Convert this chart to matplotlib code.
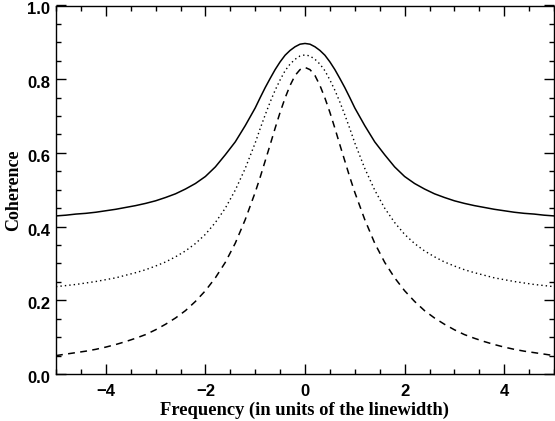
import numpy as np
import matplotlib
matplotlib.use("Agg")
import matplotlib.pyplot as plt
from matplotlib.ticker import MultipleLocator, FormatStrFormatter
from matplotlib.transforms import ScaledTranslation

# Frequency grid (in units of the linewidth); finer steps near the peak
freq = [-5.0, -4.8, -4.6, -4.4, -4.2, -4.0, -3.8, -3.6, -3.4, -3.2, -3.0,
        -2.8, -2.6, -2.4, -2.2, -2.0, -1.8, -1.6, -1.4, -1.2, -1.0,
        -0.9, -0.8, -0.7, -0.6, -0.5, -0.4, -0.3, -0.2, -0.1, 0.0,
        0.1, 0.2, 0.3, 0.4, 0.5, 0.6, 0.7, 0.8, 0.9, 1.0,
        1.2, 1.4, 1.6, 1.8, 2.0, 2.2, 2.4, 2.6, 2.8, 3.0,
        3.2, 3.4, 3.6, 3.8, 4.0, 4.2, 4.4, 4.6, 4.8, 5.0]

# Solid curve (upper)
coh_solid = [0.429, 0.431, 0.434, 0.436, 0.439, 0.443, 0.447, 0.452, 0.457, 0.463, 0.470,
             0.479, 0.489, 0.502, 0.517, 0.536, 0.562, 0.595, 0.630, 0.674, 0.722,
             0.750, 0.777, 0.802, 0.826, 0.847, 0.865, 0.878, 0.888, 0.895, 0.897,
             0.895, 0.888, 0.878, 0.865, 0.847, 0.826, 0.802, 0.777, 0.750, 0.722,
             0.674, 0.630, 0.595, 0.562, 0.536, 0.517, 0.502, 0.489, 0.479, 0.470,
             0.463, 0.457, 0.452, 0.447, 0.443, 0.439, 0.436, 0.434, 0.431, 0.429]

# Dotted curve (middle)
coh_dotted = [0.237, 0.240, 0.243, 0.247, 0.251, 0.256, 0.261, 0.268, 0.275, 0.283, 0.293,
              0.304, 0.318, 0.334, 0.354, 0.379, 0.411, 0.450, 0.499, 0.558, 0.627,
              0.666, 0.703, 0.738, 0.770, 0.798, 0.823, 0.841, 0.854, 0.863, 0.866,
              0.863, 0.854, 0.841, 0.823, 0.798, 0.770, 0.738, 0.703, 0.666, 0.627,
              0.558, 0.499, 0.450, 0.411, 0.379, 0.354, 0.334, 0.318, 0.304, 0.293,
              0.283, 0.275, 0.268, 0.261, 0.256, 0.251, 0.247, 0.243, 0.240, 0.237]

# Dashed curve (lower)
coh_dashed = [0.050, 0.054, 0.058, 0.062, 0.067, 0.073, 0.080, 0.088, 0.097, 0.107, 0.120,
              0.135, 0.152, 0.172, 0.197, 0.226, 0.261, 0.303, 0.355, 0.419, 0.493,
              0.534, 0.578, 0.622, 0.667, 0.710, 0.749, 0.783, 0.810, 0.826, 0.832,
              0.826, 0.810, 0.783, 0.749, 0.710, 0.667, 0.622, 0.578, 0.534, 0.493,
              0.419, 0.355, 0.303, 0.261, 0.226, 0.197, 0.172, 0.152, 0.135, 0.120,
              0.107, 0.097, 0.088, 0.080, 0.073, 0.067, 0.062, 0.058, 0.054, 0.050]

xlabel = "Frequency (in units of the linewidth)"
ylabel = "Coherence"

fig = plt.figure(figsize=(5.55, 4.21), dpi=100)
ax = fig.add_axes([56 / 555, 47 / 421, 498 / 555, 368.5 / 421])

ax.plot(freq, coh_solid, color="black", lw=1.1, linestyle="-")
ax.plot(freq, coh_dotted, color="black", lw=1.0, linestyle=(0, (1, 2.2)))
ax.plot(freq, coh_dashed, color="black", lw=1.1, linestyle=(0, (4.5, 3.5)))

ax.set_xlim(-5, 5)
ax.set_ylim(0, 1)
ax.xaxis.set_major_locator(MultipleLocator(2))
ax.xaxis.set_minor_locator(MultipleLocator(0.5))
ax.yaxis.set_major_locator(MultipleLocator(0.2))
ax.yaxis.set_minor_locator(MultipleLocator(0.05))
ax.yaxis.set_major_formatter(FormatStrFormatter("%.1f"))

ax.tick_params(which="both", direction="in", top=True, right=True, color="black")
ax.tick_params(which="major", length=7, width=1.0)
ax.tick_params(which="minor", length=3.5, width=1.0)
for s in ax.spines.values():
    s.set_linewidth(1.0)

ax.tick_params(axis="x", pad=7)
ax.tick_params(axis="y", pad=4)
for lab in ax.get_xticklabels():
    lab.set_fontfamily("Liberation Sans")
    lab.set_fontweight("bold")
    lab.set_fontsize(12)
shift = ScaledTranslation(0, -3 / 100, fig.dpi_scale_trans)
for t in ax.yaxis.get_major_ticks():
    t.label1.set_fontfamily("Liberation Sans")
    t.label1.set_fontweight("bold")
    t.label1.set_fontsize(12)
    t.label1.set_transform(t.label1.get_transform() + shift)

ax.set_xlabel(xlabel, fontfamily="Liberation Serif", fontweight="bold", fontsize=13.3, labelpad=2)
fig.text(14 / 555, 1 - 190 / 421, ylabel, rotation=90, ha="center", va="center",
         fontfamily="Liberation Serif", fontweight="bold", fontsize=13)

fig.savefig("out.png", dpi=100)
